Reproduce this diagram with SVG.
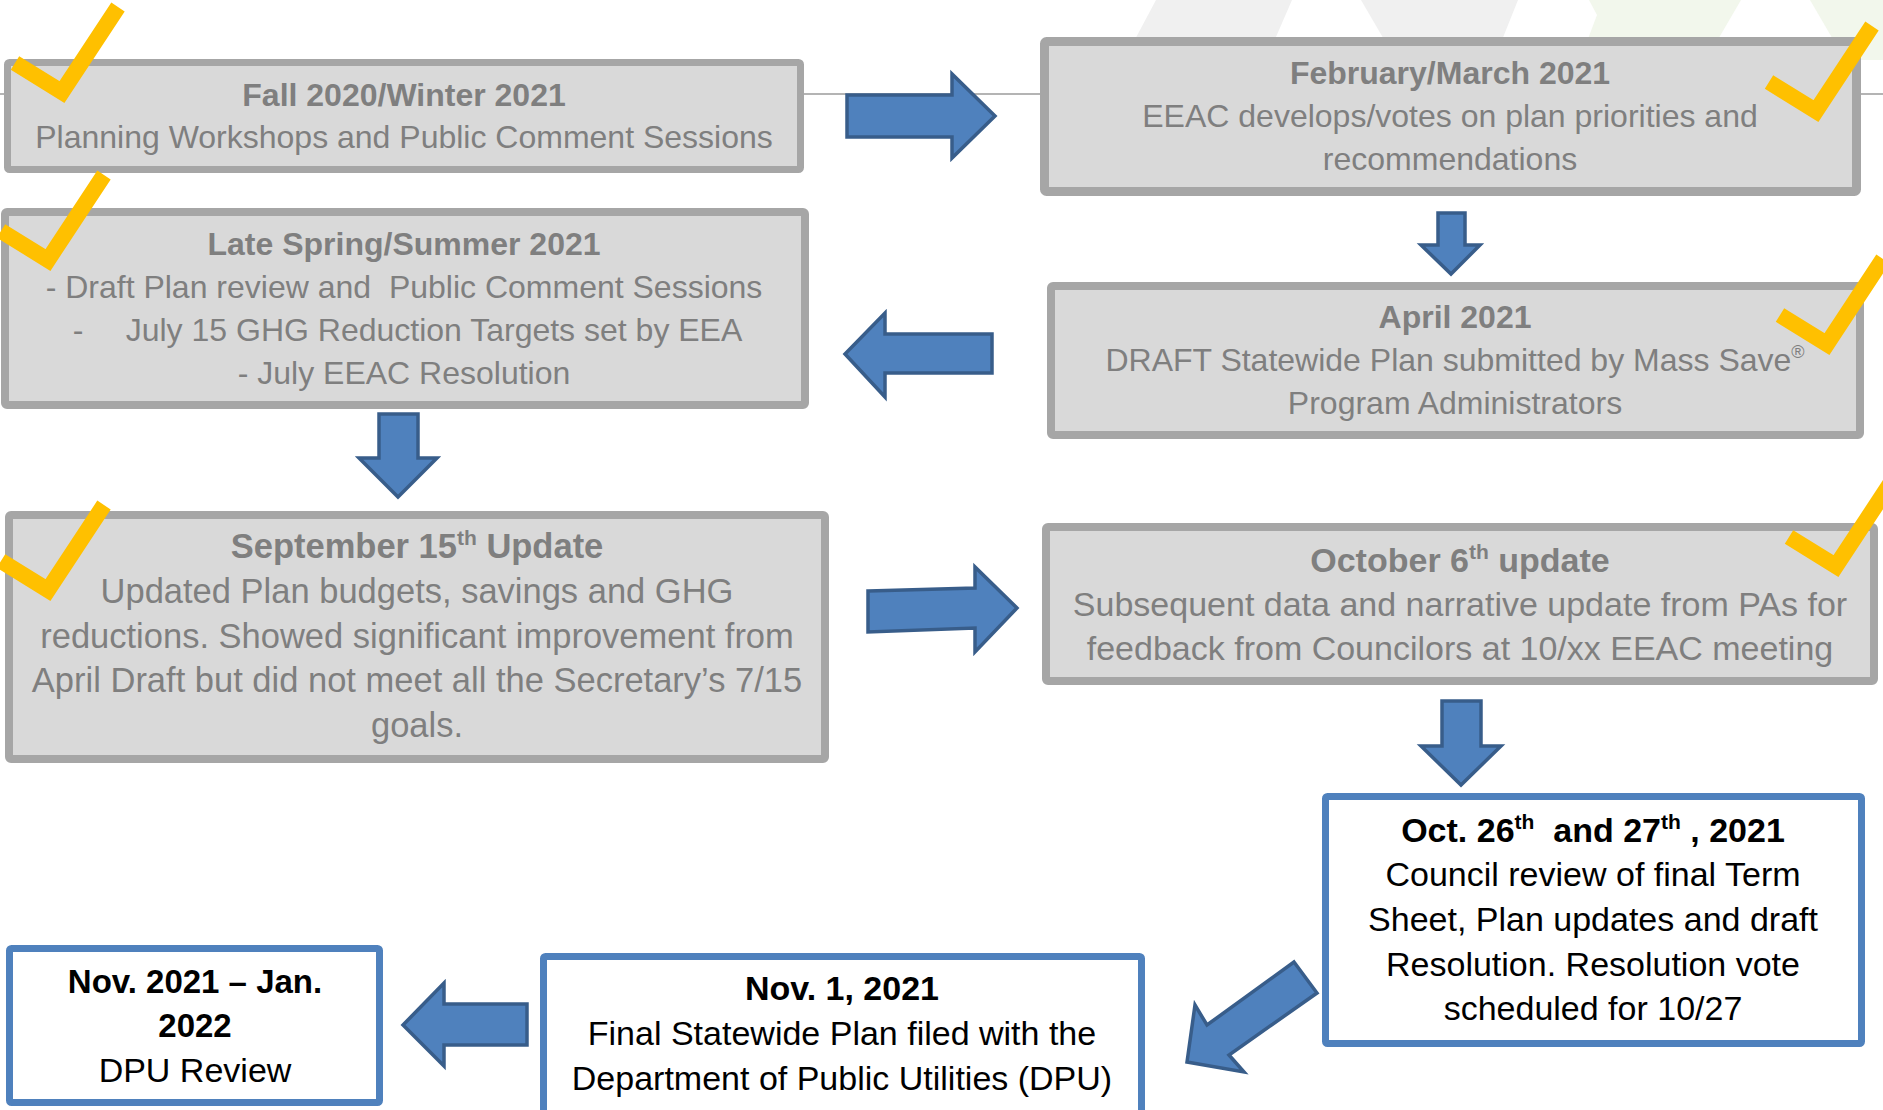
<svg xmlns="http://www.w3.org/2000/svg" xmlns:xlink="http://www.w3.org/1999/xlink" width="1883" height="1110" viewBox="0 0 1883 1110">
<defs>
<style>
.gbox{fill:#D9D9D9;stroke:#A6A6A6;stroke-width:8;}
.bbox{fill:#FFFFFF;stroke:#4F81BD;stroke-width:7;}
.gt{font-family:"Liberation Sans",Arial,sans-serif;fill:#7F7F7F;text-anchor:middle;}
.bt{font-family:"Liberation Sans",Arial,sans-serif;fill:#000000;text-anchor:middle;}
.b{font-weight:bold;}
.arrow{fill:#4F81BD;stroke:#385D8A;stroke-width:3.5;stroke-linejoin:miter;}
.check{fill:none;stroke:#FFC000;stroke-width:16;stroke-linejoin:miter;stroke-miterlimit:10;}
</style>
<polyline id="chk" class="check" points="15,63 62,92 118,7"/>
</defs>
<rect width="1883" height="1110" fill="#FFFFFF"/>
<g id="background">
<polygon points="1156,0 1292,0 1266,60 1124,60" fill="#F0F0F0"/>
<polygon points="1361,0 1518,0 1494,60 1396,60" fill="#F0F0F0"/>
<polygon points="1589,0 1741,0 1706,60 1580,60 1597,15" fill="#F2F7EC"/>
<polygon points="1810,0 1883,0 1883,60 1845,60" fill="#F2F7EC"/>
<line x1="0" y1="94" x2="1883" y2="94" stroke="#B4B4B4" stroke-width="2"/>
</g>
<g id="connectors">
<polygon class="arrow" points="847,95 952,95 952,74 995,116 952,158 952,137 847,137"/>
<polygon class="arrow" points="1438,213 1465,213 1465,245 1480,245 1451,274 1421,245 1438,245"/>
<polygon class="arrow" points="992,334 885,334 885,313 845,354 885,397 885,373 992,373"/>
<polygon class="arrow" points="379,414 418,414 418,458 437,458 398,497 359,458 379,458"/>
<polygon class="arrow" points="868,591 975,588 975,567 1017,608 975,652 975,628 868,632"/>
<polygon class="arrow" points="1442,701 1481,701 1481,746 1501,746 1461,785 1421,746 1442,746"/>
<polygon class="arrow" points="1294,962 1317,993 1229,1055 1244,1072 1187,1062 1195,1005 1207,1025"/>
<polygon class="arrow" points="527,1004 444,1004 444,983 403,1025 444,1066 444,1045 527,1045"/>
</g>
<g id="node-fall2020">
<rect class="gbox" x="7.5" y="62.5" width="793" height="107" rx="2" style="stroke-width:7"/>
<text class="gt b" x="404" y="106" font-size="32">Fall 2020/Winter 2021</text>
<text class="gt" x="404" y="148" font-size="32">Planning Workshops and Public Comment Sessions</text>
</g>
<g id="node-febmar2021">
<rect class="gbox" x="1044.5" y="41.5" width="812" height="150" rx="2" style="stroke-width:9"/>
<text class="gt b" x="1450" y="84" font-size="32">February/March 2021</text>
<text class="gt" x="1450" y="127" font-size="32">EEAC develops/votes on plan priorities and</text>
<text class="gt" x="1450" y="170" font-size="32">recommendations</text>
</g>
<g id="node-latespring">
<rect class="gbox" x="5" y="212" width="800" height="193" rx="2"/>
<text class="gt b" x="404" y="255" font-size="32">Late Spring/Summer 2021</text>
<text class="gt" x="404" y="298" font-size="32" xml:space="preserve">- Draft Plan review and  Public Comment Sessions</text>
<text class="gt" font-size="32"><tspan x="78" y="341">-</tspan><tspan x="434" y="341">July 15 GHG Reduction Targets set by EEA</tspan></text>
<text class="gt" x="404" y="384" font-size="32">- July EEAC Resolution</text>
</g>
<g id="node-april2021">
<rect class="gbox" x="1051" y="286" width="809" height="149" rx="2"/>
<text class="gt b" x="1455" y="328" font-size="32">April 2021</text>
<text class="gt" x="1455" y="371" font-size="32">DRAFT Statewide Plan submitted by Mass Save<tspan font-size="18" dy="-13">®</tspan></text>
<text class="gt" x="1455" y="414" font-size="32">Program Administrators</text>
</g>
<g id="node-sept15">
<rect class="gbox" x="9" y="515" width="816" height="244" rx="2"/>
<text class="gt b" x="417" y="558" font-size="34.5">September 15<tspan font-size="21" dy="-13">th</tspan><tspan dy="13"> Update</tspan></text>
<text class="gt" x="417" y="603" font-size="34.5">Updated Plan budgets, savings and GHG</text>
<text class="gt" x="417" y="648" font-size="34.5">reductions. Showed significant improvement from</text>
<text class="gt" x="417" y="692" font-size="34.5">April Draft but did not meet all the Secretary’s 7/15</text>
<text class="gt" x="417" y="737" font-size="34.5">goals.</text>
</g>
<g id="node-oct6">
<rect class="gbox" x="1046" y="527" width="828" height="154" rx="2"/>
<text class="gt b" x="1460" y="572" font-size="34">October 6<tspan font-size="21" dy="-13">th</tspan><tspan dy="13"> update</tspan></text>
<text class="gt" x="1460" y="616" font-size="34">Subsequent data and narrative update from PAs for</text>
<text class="gt" x="1460" y="660" font-size="34">feedback from Councilors at 10/xx EEAC meeting</text>
</g>
<g id="node-oct26">
<rect class="bbox" x="1325.5" y="796.5" width="536" height="247" rx="2"/>
<text class="bt b" x="1593" y="842" font-size="34" xml:space="preserve">Oct. 26<tspan font-size="21" dy="-13">th</tspan><tspan dy="13">  and 27</tspan><tspan font-size="21" dy="-13">th</tspan><tspan dy="13"> , 2021</tspan></text>
<text class="bt" x="1593" y="886" font-size="34">Council review of final Term</text>
<text class="bt" x="1593" y="931" font-size="34">Sheet, Plan updates and draft</text>
<text class="bt" x="1593" y="976" font-size="34">Resolution. Resolution vote</text>
<text class="bt" x="1593" y="1020" font-size="34">scheduled for 10/27</text>
</g>
<g id="node-nov1">
<rect class="bbox" x="543.5" y="956.5" width="598" height="170" rx="2"/>
<text class="bt b" x="842" y="1000" font-size="34">Nov. 1, 2021</text>
<text class="bt" x="842" y="1045" font-size="34">Final Statewide Plan filed with the</text>
<text class="bt" x="842" y="1090" font-size="34">Department of Public Utilities (DPU)</text>
</g>
<g id="node-dpureview">
<rect class="bbox" x="9.5" y="948.5" width="370" height="154" rx="2"/>
<text class="bt b" x="195" y="993" font-size="33">Nov. 2021 – Jan.</text>
<text class="bt b" x="195" y="1037" font-size="33">2022</text>
<text class="bt" x="195" y="1082" font-size="34">DPU Review</text>
</g>
<g id="checkmarks">
<use xlink:href="#chk"/>
<use xlink:href="#chk" transform="translate(-14,168)"/>
<use xlink:href="#chk" transform="translate(-14,498)"/>
<use xlink:href="#chk" transform="translate(1754,19)"/>
<use xlink:href="#chk" transform="translate(1765,252)"/>
<use xlink:href="#chk" transform="translate(1774,474)"/>
</g>
</svg>
